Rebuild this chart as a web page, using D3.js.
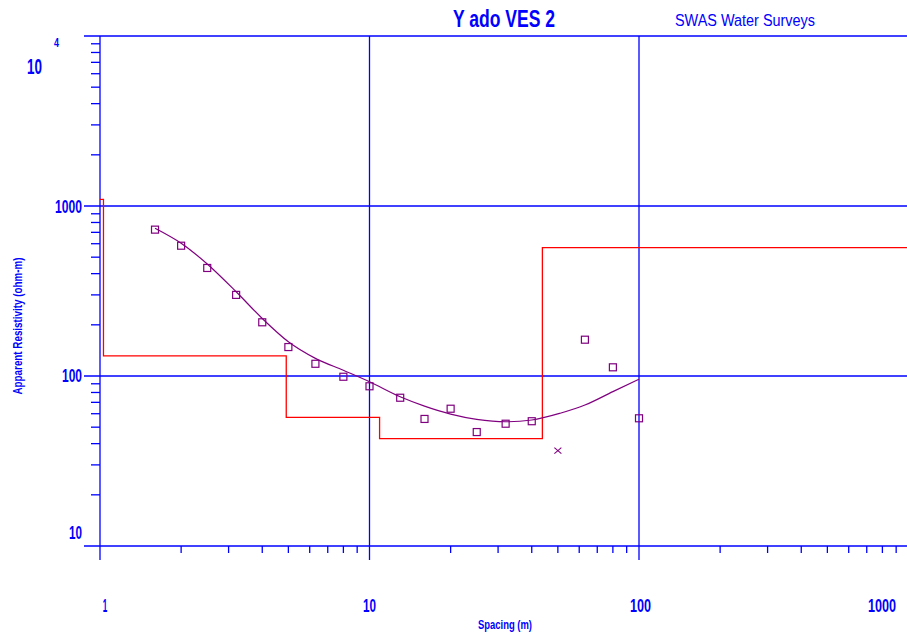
<!DOCTYPE html>
<html>
<head>
<meta charset="utf-8">
<script src="https://cdn.jsdelivr.net/npm/d3@7"></script>
<style>
  html, body { margin: 0; padding: 0; background: #fff; }
  svg { display: block; }
  text { font-family: "Liberation Sans Narrow", "Arial Narrow", "Liberation Sans", Arial, sans-serif; }
</style>
</head>
<body>
<svg id="chart" width="907" height="637"></svg>
<script>
// Observed apparent resistivity (Schlumberger AB/2 spacing, m)
const spacing = [1.6, 2, 2.5, 3.2, 4, 5, 6.3, 8, 10, 13, 16, 20, 25, 32, 40, 63, 80, 100];
const rhoObserved = [726, 584, 432, 300, 207, 148, 118, 99, 87, 74.5, 55.9, 64.2, 46.8, 52.4, 54.2, 163.5, 112.5, 56.4];

// Masked (rejected) reading
const maskedSpacing = [50];
const maskedRho = [36.4];

// Calculated response of the layered model
const curveSpacing = [1.6, 2, 2.5, 3.2, 4, 5, 6.3, 8, 10, 13, 16, 20, 25, 32, 40, 51, 63, 80, 100];
const curveRho = [740, 604, 456, 313, 218, 159, 127, 108, 92.5, 75.5, 66.5, 59.7, 55.6, 53.8, 55.1, 60.4, 67.5, 80.9, 95.7];

// Layered earth model: resistivities and depths to each interface (m)
const layerRho = [1094, 131.5, 57.1, 42.8, 569];
const layerDepth = [1.03, 4.91, 10.9, 43.8];

// Axis labels
const xTickValues = [1, 10, 100, 1000];
const xTickLabels = ["1", "10", "100", "1000"];
const yTickValues = [10, 100, 1000];
const yTickLabels = ["10", "100", "1000"];

const BLUE = "#0000ff";
const PURPLE = "#800080";
const RED = "#ff0000";

const svg = d3.select("#chart");

const x = d3.scaleLog().domain([1, 1000]).range([100, 908.5]);
const y = d3.scaleLog().domain([10, 10000]).range([546, 36]);

const xMin = 1, xMax = 1000;

// Minor ticks
const minorX = [], minorY = [];
[1, 10, 100].forEach(d => { for (let k = 2; k <= 9; k++) minorX.push(d * k); });
[10, 100, 1000].forEach(d => { for (let k = 2; k <= 9; k++) minorY.push(d * k); });

const grid = svg.append("g").attr("stroke", BLUE).attr("stroke-width", 1.3).attr("fill", "none");

// Horizontal decade lines (extend left of the axis as major ticks)
grid.selectAll("line.h").data([10, 100, 1000, 10000]).join("line")
  .attr("x1", 84).attr("x2", 907)
  .attr("y1", d => y(d)).attr("y2", d => y(d));

// Vertical decade lines (extend below the axis as major ticks)
grid.selectAll("line.v").data([1, 10, 100]).join("line")
  .attr("x1", d => x(d)).attr("x2", d => x(d))
  .attr("y1", y(10000)).attr("y2", 560);

// Minor ticks on the spacing axis
grid.selectAll("line.mx").data(minorX).join("line")
  .attr("x1", d => x(d)).attr("x2", d => x(d))
  .attr("y1", y(10)).attr("y2", y(10) + 7);

// Minor ticks on the resistivity axis
grid.selectAll("line.my").data(minorY).join("line")
  .attr("x1", x(1) - 9).attr("x2", x(1))
  .attr("y1", d => y(d)).attr("y2", d => y(d));

// Layered model (step line)
const steps = [];
let prev = xMin;
layerRho.forEach((r, i) => {
  const next = i < layerDepth.length ? layerDepth[i] : xMax;
  steps.push([prev, r], [next, r]);
  prev = next;
});
svg.append("path")
  .attr("d", d3.line().x(d => x(d[0])).y(d => y(d[1]))(steps))
  .attr("fill", "none").attr("stroke", RED).attr("stroke-width", 1.3);

// Calculated curve
svg.append("path")
  .attr("d", d3.line().x(d => x(d[0])).y(d => y(d[1])).curve(d3.curveMonotoneX)(curveSpacing.map((s, i) => [s, curveRho[i]])))
  .attr("fill", "none").attr("stroke", PURPLE).attr("stroke-width", 1.2);

// Observed points (open squares)
svg.append("g").selectAll("rect").data(spacing.map((s, i) => [s, rhoObserved[i]])).join("rect")
  .attr("x", d => x(d[0]) - 3.5).attr("y", d => y(d[1]) - 3.5)
  .attr("width", 7).attr("height", 7)
  .attr("fill", "none").attr("stroke", PURPLE).attr("stroke-width", 1.2);

// Masked point (cross)
const cross = svg.append("g").attr("stroke", PURPLE).attr("stroke-width", 1.1);
maskedSpacing.forEach((s, i) => {
  const cx = x(s), cy = y(maskedRho[i]);
  cross.append("line").attr("x1", cx - 3.5).attr("y1", cy - 3).attr("x2", cx + 3.5).attr("y2", cy + 3);
  cross.append("line").attr("x1", cx - 3.5).attr("y1", cy + 3).attr("x2", cx + 3.5).attr("y2", cy - 3);
});

// Text helper
function label(px, py, str, size, width, opts = {}) {
  const t = svg.append("text")
    .attr("x", px).attr("y", py)
    .attr("fill", opts.color || BLUE)
    .attr("font-size", size)
    .attr("font-weight", opts.weight || "bold")
    .attr("text-anchor", opts.anchor || "middle")
    .text(str);
  if (width) t.attr("textLength", width).attr("lengthAdjust", "spacingAndGlyphs");
  if (opts.spacing) t.attr("letter-spacing", opts.spacing);
  if (opts.transform) t.attr("transform", opts.transform);
  return t;
}

// X tick labels
const xLabelPos = [105, 369.5, 640.5, 882];
const xLabelW = [4.5, 13, 21, 28];
xTickValues.forEach((v, i) => label(xLabelPos[i], 612, xTickLabels[i], 18, xLabelW[i]));

// Y tick labels
const yLabelBase = [539, 382, 213];
const yLabelW = [13, 20, 27];
yTickValues.forEach((v, i) => label(82, yLabelBase[i], yTickLabels[i], 18, yLabelW[i], { anchor: "end" }));

// 10^4 label
label(27, 74, "10", 22, 15, { anchor: "start" });
label(54, 47, "4", 12, 5, { anchor: "start" });

// Titles
label(504, 27, "Y ado VES 2", 24, 102);
label(745, 26, "SWAS Water Surveys", 16, 140, { weight: "normal" });

// Axis titles
label(505, 629, "Spacing (m)", 12, 54);
label(0, 0, "Apparent Resistivity (ohm-m)", 12, 137, { transform: "translate(22,326) rotate(-90)" });
</script>
</body>
</html>
